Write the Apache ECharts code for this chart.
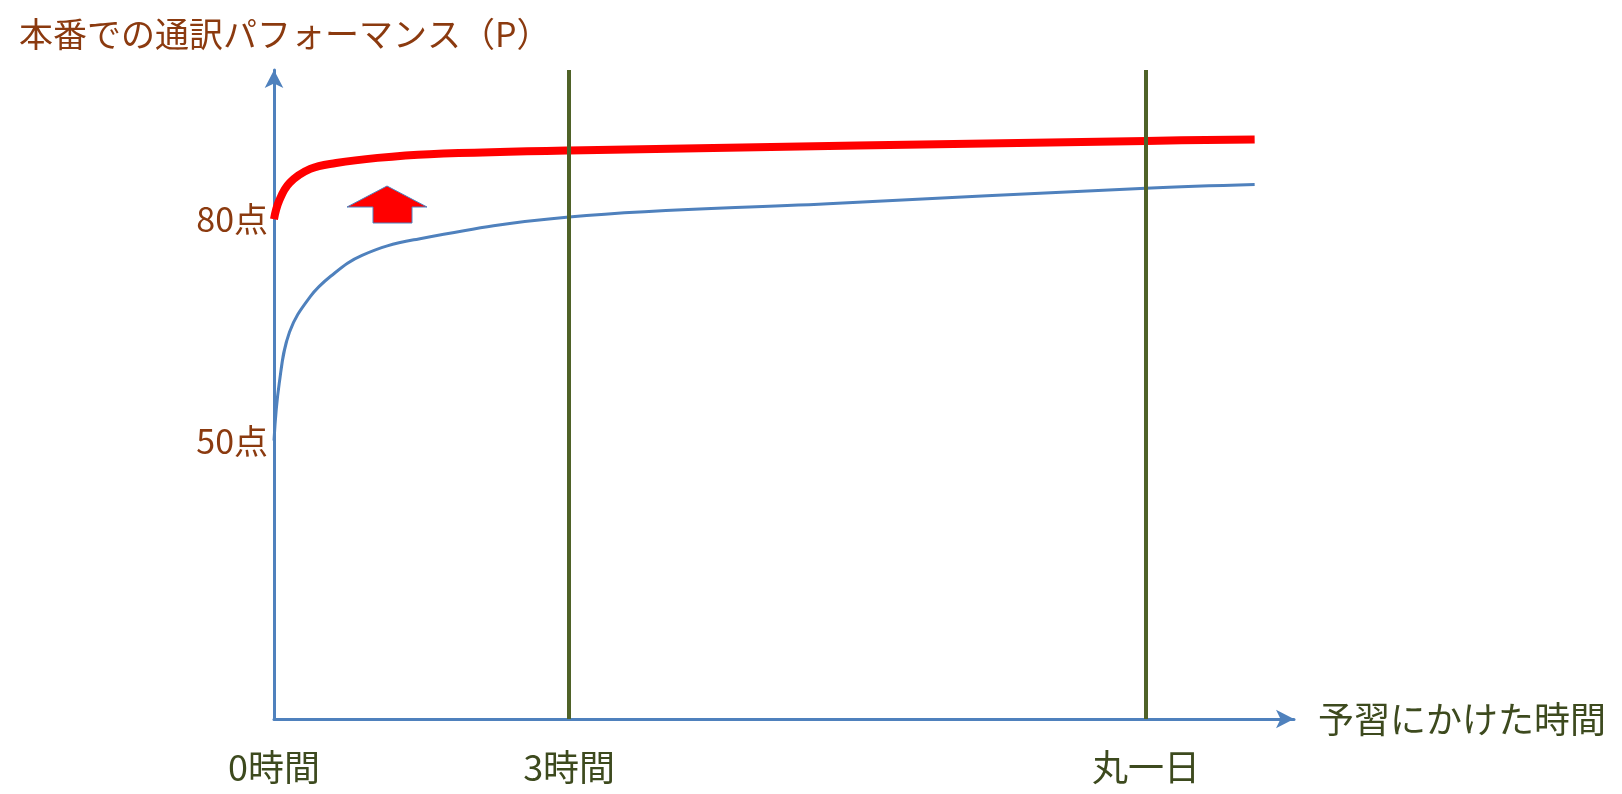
<!DOCTYPE html>
<html lang="ja">
<head>
<meta charset="UTF-8">
<title>通訳パフォーマンス</title>
<script src="https://cdn.jsdelivr.net/npm/echarts@6/dist/echarts.min.js"></script>
<style>html,body{margin:0;background:#fff}#chart{width:1622px;height:794px}</style>
</head>
<body>
<div id="chart"></div>
<script>
// 予習時間（横軸の位置）と得点
const redX = [0, 5, 15, 35, 60, 100, 150, 285, 842, 947];
const redY = [80, 82.5, 84.9, 86.8, 87.6, 88.3, 88.8, 89.3, 90.6, 90.8];
const blueX = [0, 5, 15, 35, 55, 85, 135, 285, 535, 842, 947];
const blueY = [50, 57.7, 64.7, 69.5, 72.3, 75.1, 77.2, 80.3, 82.1, 84.2, 84.7];
const xTicks = [0, 285, 842];
const xTickLabels = ['0時間', '3時間', '丸一日'];
const yTicks = [50, 80];
const yTickLabels = ['50点', '80点'];

const font = '"Noto Sans CJK JP", sans-serif';
const chart = echarts.init(document.getElementById('chart'));
chart.setOption({
  animation: false,
  grid: { left: 274, right: 328, top: 70, bottom: 75 },
  title: {
    text: '本番での通訳パフォーマンス（P）', left: 14, top: 12,
    textStyle: { color: '#8b3a0f', fontSize: 34, fontWeight: 'normal', fontFamily: font }
  },
  xAxis: {
    type: 'value', min: 0, max: 985,
    name: '予習にかけた時間', nameLocation: 'end', nameGap: 24,
    nameTextStyle: { color: '#3d4a1e', fontSize: 36, fontFamily: font, verticalAlign: 'middle' },
    axisLine: { lineStyle: { color: '#4f81bd', width: 3 }, symbol: ['none', 'arrow'], symbolSize: [14, 18] },
    axisTick: { show: false }, splitLine: { show: false },
    axisLabel: {
      customValues: xTicks, margin: 30,
      formatter: v => xTickLabels[xTicks.indexOf(v)],
      color: '#3d4a1e', fontSize: 36, fontFamily: font
    }
  },
  yAxis: {
    type: 'value', min: 12.3, max: 100.2,
    axisLine: { show: true, lineStyle: { color: '#4f81bd', width: 3 }, symbol: ['none', 'arrow'], symbolSize: [14, 18] },
    axisTick: { show: false }, splitLine: { show: false },
    axisLabel: {
      customValues: yTicks, margin: 6,
      formatter: v => yTickLabels[yTicks.indexOf(v)],
      color: '#8b3a0f', fontSize: 34, fontFamily: font
    }
  },
  series: [
    {
      type: 'line', smooth: 0.4, symbol: 'none',
      data: blueX.map((x, i) => [x, blueY[i]]),
      lineStyle: { color: '#4f81bd', width: 3 },
      markLine: {
        silent: true, symbol: 'none', label: { show: false },
        lineStyle: { color: '#4f6228', width: 4, type: 'solid' },
        data: [{ xAxis: 285 }, { xAxis: 842 }]
      }
    },
    {
      type: 'line', smooth: 0.4, symbol: 'none',
      data: redX.map((x, i) => [x, redY[i]]),
      lineStyle: { color: '#ff0000', width: 8 }
    }
  ],
  graphic: [{
    type: 'polygon',
    shape: { points: [[347, 207], [373, 207], [373, 223], [412, 223], [412, 207], [427, 207], [387, 186]] },
    style: { fill: '#ff0000', stroke: '#4f81bd', lineWidth: 1 }
  }]
});
</script>
</body>
</html>
